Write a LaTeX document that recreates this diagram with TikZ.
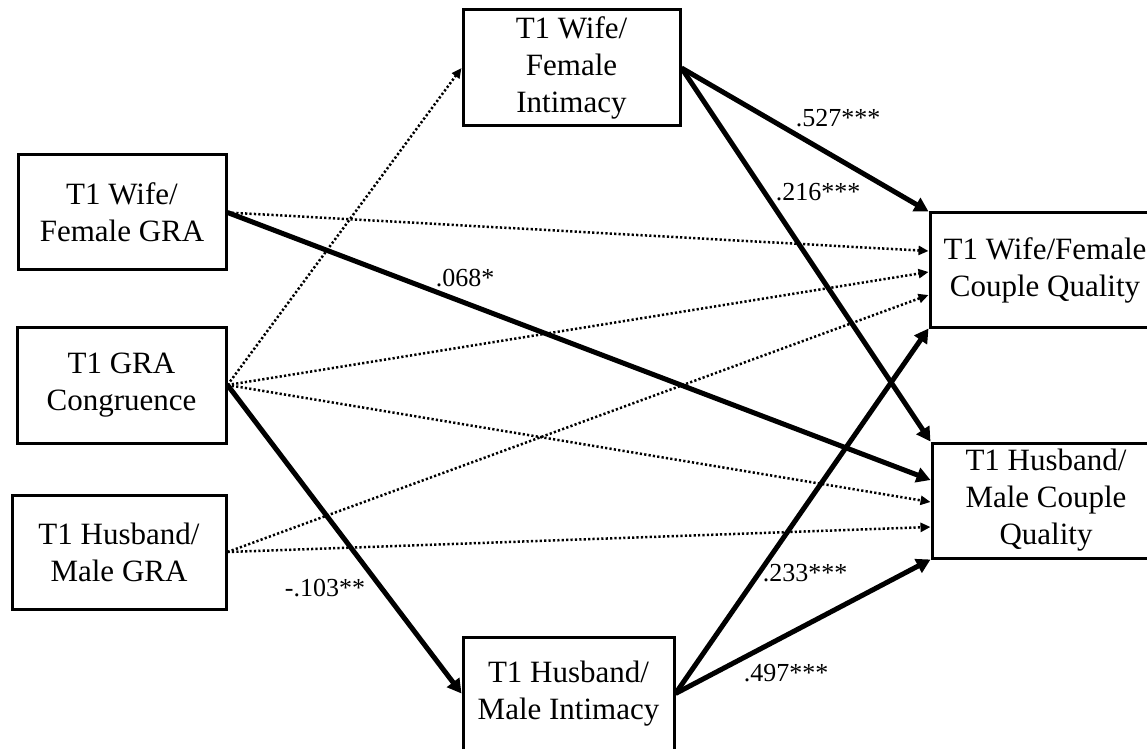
\documentclass[tikz,border=0pt]{standalone}
\usepackage{fontspec}
\setmainfont{Liberation Serif}
\usetikzlibrary{arrows.meta,calc}
\begin{document}
\begin{tikzpicture}[x=1pt,y=1pt,
  box/.style={draw,line width=3pt,inner sep=0pt,align=center,
    font=\fontsize{31}{37}\selectfont},
  solidarrow/.style={line width=5pt,-{Triangle[length=14pt,width=15pt]}},
  dotarrow/.style={line width=2.5pt,dash pattern=on 2.2pt off 2.2pt,-{Triangle[length=10pt,width=9pt]}},
  coef/.style={inner sep=0pt,font=\fontsize{26}{30}\selectfont}]
\useasboundingbox (0,0) rectangle (1147,748);
\node[box,minimum width=208pt,minimum height=115pt] (wfgra) at (122,535.5) {T1 Wife/\\Female GRA};
\node[box,minimum width=209pt,minimum height=116pt] (cong) at (121.5,363) {T1 GRA\\Congruence};
\node[box,minimum width=214pt,minimum height=114pt] (hmgra) at (119,196) {T1 Husband/\\Male GRA};
\node[box,minimum width=217pt,minimum height=116pt] (wfint) at (571.5,680) {T1 Wife/\\Female\\Intimacy};
\node[box,minimum width=211pt,minimum height=113pt] (hmint) at (568.5,54.5) {T1 Husband/\\Male Intimacy};
\node[box,minimum width=230pt,minimum height=114pt] (wfcq) at (1045,478) {T1 Wife/Female\\Couple Quality};
\node[box,minimum width=228pt,minimum height=115pt] (hmcq) at (1046,247.5) {T1 Husband/\\Male Couple\\Quality};
% dotted paths
\draw[dotarrow] (wfgra.east) -- ([yshift=19pt]wfcq.west);
\draw[dotarrow] (cong.east) -- (wfint.west);
\draw[dotarrow] (cong.east) -- ([yshift=-2pt]wfcq.west);
\draw[dotarrow] (cong.east) -- ([yshift=-1.5pt]hmcq.west);
\draw[dotarrow] (hmgra.east) -- ([yshift=-25pt]wfcq.west);
\draw[dotarrow] (hmgra.east) -- ([yshift=-26.5pt]hmcq.west);
% solid paths
\draw[solidarrow] (wfint.east) -- (wfcq.north west);
\draw[solidarrow] (wfint.east) -- (hmcq.north west);
\draw[solidarrow] (wfgra.east) -- ([yshift=20.5pt]hmcq.west);
\draw[solidarrow] (cong.east) -- (hmint.west);
\draw[solidarrow] (hmint.east) -- (wfcq.south west);
\draw[solidarrow] (hmint.east) -- (hmcq.south west);
% coefficients
\node[coef] (c1) at (838,630) {.527***};
\node[coef] (c2) at (818,556) {.216***};
\node[coef] (c3) at (465,470) {.068*};
\node[coef] (c4) at (325,160) {-.103**};
\node[coef] (c5) at (805,175) {.233***};
\node[coef] (c6) at (786,75) {.497***};
\end{tikzpicture}
\end{document}
